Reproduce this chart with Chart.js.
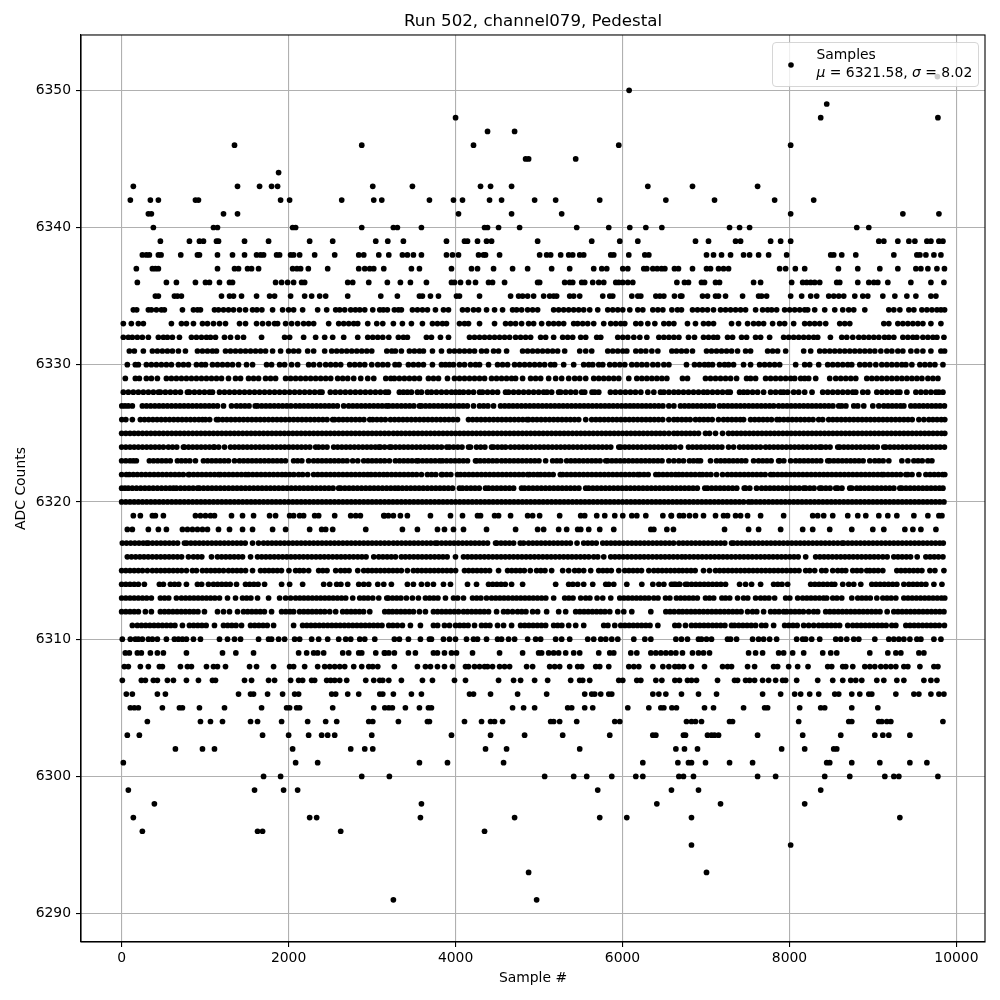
<!DOCTYPE html>
<html><head><meta charset="utf-8">
<style>html,body{margin:0;padding:0;background:#fff}canvas{display:block}</style>
<script src="https://cdn.jsdelivr.net/npm/chart.js@4"></script></head><body>
<canvas id="c" width="1000" height="1000" style="width:1000px;height:1000px"></canvas>
<script>
const xTicks=[0,2000,4000,6000,8000,10000];
const yTicks=[6290,6300,6310,6320,6330,6340,6350];
const s6351=[9772];
const s6350=[6079];
const s6349=[8446];
const s6348=[4000,8374,9778];
const s6347=[4383,4707];
const s6346=[1352,2876,4215,5955,8014];
const s6345=[4839,4875,5439];
const s6344=[1880];
const s6343=[140,1388,1652,1796,1868,3008,3483,4299,4419,4671,6303,6838,7618];
const s6342=[104,344,440,884,920,1904,2012,2636,3020,3116,3687,3975,4083,4407,4551,4947,5199,5727,6519,7102,7822,8290];
const s6341=[320,356,1220,1388,4035,4671,5271,8014,9358,9790];
const s6340=[380,1100,1148,2048,2084,2876,3255,3303,3591,4347,4383,4515,4767,5451,5835,6087,6279,6471,7282,7402,7522,8806,8950];
const s6339=[464,812,932,980,1136,1160,1472,1760,2252,2528,3044,3188,3375,3891,4107,4143,4263,4371,4431,4983,5631,5967,6183,6874,7030,7354,7414,7774,7894,8014,9070,9130,9298,9430,9502,9646,9694,9790,9838];
const s6338=[248,296,332,440,472,708,908,932,1148,1328,1472,1616,1664,1700,1856,1892,2024,2060,2132,2312,2552,2840,2900,3080,3200,3363,3423,3495,3591,3891,3963,4035,4275,4335,4359,4527,5007,5091,5139,5259,5355,5403,5487,5535,5859,5895,6075,6267,6315,7006,7090,7186,7294,7450,7522,7630,7750,7966,8494,8530,8626,8794,9250,9526,9562,9634,9730,9814];
const s6337=[176,368,404,440,1148,1352,1400,1508,1556,1640,2048,2100,2144,2236,2468,2840,2912,2972,3020,3140,3471,3567,3951,4191,4263,4455,4683,4863,5151,5367,5655,5751,5811,6003,6063,6255,6291,6363,6415,6467,6507,6622,6670,6838,7006,7054,7150,7210,7270,7882,7954,8070,8182,8586,8818,9082,9298,9514,9574,9658,9766,9856];
const s6336=[188,536,656,884,1004,1052,1172,1292,1328,1844,1916,1988,2060,2156,2192,2708,2768,2960,3183,3339,3459,3651,3951,3987,4059,4155,4239,4395,4443,4587,4983,5007,5307,5367,5403,5511,5547,5643,5715,5775,5919,5955,6003,6063,6123,6651,6742,6790,6946,6982,7114,7162,7570,7654,8026,8158,8206,8254,8302,8362,8566,8602,8818,8950,9010,9058,9178,9454,9694,9850];
const s6335=[404,440,632,668,716,1196,1292,1340,1436,1616,1772,1832,2024,2192,2276,2372,2444,2708,3104,3303,3567,3603,3699,3795,4011,4047,4287,4659,4755,4803,4863,4935,5055,5127,5175,5211,5367,5415,5487,5763,5847,5883,6111,6183,6219,6399,6447,6495,6622,6694,6711,6958,7018,7114,7150,7234,7438,7630,7666,7726,8014,8146,8254,8326,8470,8530,8590,8650,8782,8878,8938,9118,9262,9406,9514,9694,9754];
const s6334=[140,180,320,356,416,476,512,728,860,908,944,1112,1160,1220,1280,1340,1412,1484,1568,1620,1680,1808,1928,2000,2060,2168,2348,2456,2564,2612,2672,2744,2800,2852,2912,3008,3092,3135,3183,3267,3315,3351,3483,3543,3603,3663,3759,3855,3915,4083,4143,4215,4275,4371,4467,4563,4683,4731,4791,4863,4923,4983,5175,5235,5295,5355,5415,5475,5535,5607,5703,5823,5883,5943,6003,6087,6183,6243,6363,6423,6483,6591,6658,6706,6838,6898,6958,7018,7090,7174,7234,7294,7354,7414,7474,7594,7678,7738,7786,7846,7942,8002,8062,8122,8182,8218,8302,8422,8542,8638,8710,8770,8902,9190,9250,9322,9430,9490,9586,9646,9706,9766,9814,9858];
const s6333=[20,116,200,260,596,716,776,860,968,1028,1100,1172,1244,1412,1484,1616,1688,1760,1832,1868,1964,2036,2108,2180,2240,2300,2480,2600,2660,2720,2780,2828,2948,3056,3128,3255,3363,3471,3603,3723,3783,3843,3891,4047,4107,4155,4287,4467,4599,4659,4719,4791,4875,4935,5031,5115,5175,5235,5295,5415,5463,5523,5583,5655,5775,5859,5919,5979,6027,6159,6219,6303,6387,6495,6555,6615,6778,6874,6970,7030,7090,7306,7390,7498,7570,7630,7690,7798,7882,7942,8050,8182,8242,8302,8362,8434,8602,8662,8722,9130,9190,9298,9358,9418,9478,9538,9598,9694,9814];
const s6332=[20,80,128,188,248,320,440,500,548,608,692,836,896,956,1016,1064,1124,1232,1304,1388,1460,1676,1952,2012,2180,2324,2432,2528,2660,2828,2948,3008,3068,3128,3200,3315,3375,3423,3651,3711,3819,3915,4167,4227,4287,4347,4407,4467,4527,4587,4647,4719,4779,4839,4899,5019,5079,5175,5283,5343,5403,5499,5559,5691,5739,5943,6003,6063,6135,6207,6291,6435,6495,6555,6615,6675,6790,6862,6970,7030,7090,7138,7258,7318,7426,7486,7594,7654,7762,7930,7990,8050,8110,8170,8230,8290,8338,8490,8626,8686,8758,8830,8890,8950,9010,9070,9138,9190,9250,9358,9418,9478,9526,9598,9658,9718,9766,9850];
const s6331=[92,152,260,368,428,488,548,608,680,764,908,968,1028,1088,1136,1244,1304,1364,1424,1484,1544,1604,1664,1724,1808,1904,2000,2060,2120,2228,2300,2432,2516,2576,2636,2696,2756,2816,2876,2936,2996,3176,3236,3279,3351,3447,3507,3567,3615,3723,3831,3927,3987,4047,4107,4167,4227,4311,4371,4455,4515,4611,4803,4863,4923,4983,5043,5103,5163,5223,5307,5487,5559,5631,5823,5883,5943,6003,6051,6159,6219,6279,6351,6423,6591,6646,6706,6766,6838,7006,7066,7126,7186,7246,7306,7378,7474,7534,7738,7798,7858,7954,8170,8254,8362,8422,8482,8542,8602,8662,8722,8782,8842,8902,8962,9022,9094,9166,9226,9298,9358,9454,9526,9598,9694,9814,9858];
const s6330=[68,164,200,296,356,416,476,536,596,680,740,800,896,956,1004,1088,1148,1208,1268,1328,1400,1496,1568,1736,1796,1892,1952,2036,2108,2240,2300,2372,2444,2504,2564,2624,2732,2792,2852,2912,2996,3068,3128,3188,3275,3323,3435,3495,3555,3615,3723,3831,3879,3927,3975,4047,4107,4179,4239,4287,4395,4503,4563,4623,4707,4767,4827,4887,4947,5007,5067,5139,5187,5295,5415,5535,5595,5643,5715,5763,5847,5907,5967,6027,6111,6171,6231,6291,6363,6423,6495,6555,6766,6862,6922,6982,7030,7078,7162,7222,7270,7330,7450,7534,7642,7702,7762,7822,7882,8074,8182,8242,8350,8458,8518,8578,8638,8698,8746,8842,8902,8962,9034,9106,9166,9226,9286,9346,9394,9466,9562,9622,9682,9742,9838];
const s6329=[44,164,212,296,356,428,536,596,656,716,776,836,896,956,1016,1076,1136,1196,1280,1364,1424,1520,1580,1640,1724,1784,1844,1964,2024,2084,2144,2204,2264,2324,2384,2444,2504,2588,2648,2708,2780,2864,2948,3020,3164,3224,3267,3327,3387,3447,3507,3567,3675,3735,3795,3903,3987,4047,4107,4167,4227,4287,4347,4431,4491,4551,4611,4671,4719,4803,4899,4959,5019,5115,5199,5271,5355,5427,5487,5559,5655,5715,5775,5835,5895,5955,6075,6171,6231,6291,6351,6411,6471,6531,6718,6778,6994,7054,7114,7174,7234,7294,7366,7486,7534,7594,7714,7774,7834,7894,7954,8014,8062,8134,8182,8230,8314,8482,8554,8614,8674,8734,8794,8926,8986,9046,9106,9166,9226,9286,9346,9406,9466,9526,9586,9658,9718,9778];
const s6328=[20,80,140,200,260,320,380,440,464,524,584,644,704,788,812,872,932,992,1052,1088,1172,1232,1292,1352,1412,1472,1532,1592,1652,1712,1772,1832,1892,1952,2012,2072,2132,2192,2252,2312,2372,2400,2500,2560,2620,2680,2740,2800,2860,2920,2980,3040,3100,3160,3195,3327,3375,3423,3471,3543,3591,3663,3711,3771,3831,3891,3951,4000,4047,4095,4155,4215,4287,4323,4383,4443,4503,4599,4635,4695,4755,4815,4875,4935,4995,5055,5095,5151,5235,5259,5319,5379,5439,5511,5547,5635,5667,5715,5855,5915,5975,6035,6095,6155,6219,6303,6375,6455,6495,6555,6615,6670,6730,6790,6850,6910,6970,7018,7078,7138,7198,7258,7290,7402,7450,7498,7558,7618,7690,7774,7834,7894,7930,7978,8050,8110,8182,8270,8398,8458,8518,8578,8638,8698,8758,8794,8878,8938,9046,9106,9166,9226,9286,9322,9406,9514,9574,9634,9694,9754,9790,9838];
const s6327=[2,40,80,128,248,298,348,398,448,498,548,598,648,698,748,798,848,898,948,998,1048,1098,1148,1220,1316,1376,1426,1476,1526,1600,1628,1678,1728,1778,1828,1878,1928,1978,2028,2084,2134,2184,2234,2284,2334,2384,2434,2484,2534,2584,2660,2720,2770,2820,2870,2920,2970,3020,3070,3120,3170,3200,3250,3300,3350,3400,3450,3500,3567,3591,3641,3691,3741,3791,3841,3891,3941,3991,4041,4091,4141,4215,4287,4337,4387,4455,4539,4589,4639,4689,4739,4789,4839,4889,4939,4989,5039,5089,5139,5189,5239,5289,5339,5389,5439,5489,5539,5589,5639,5689,5739,5789,5839,5889,5939,5989,6039,6089,6135,6183,6233,6283,6333,6383,6433,6483,6555,6615,6694,6744,6794,6844,6894,6944,6994,7044,7090,7162,7212,7262,7312,7362,7412,7462,7512,7562,7612,7662,7712,7762,7810,7870,7920,7970,8020,8070,8120,8170,8220,8270,8320,8370,8420,8470,8520,8590,8626,8676,8770,8818,8890,8998,9070,9130,9180,9230,9280,9330,9370,9454,9504,9554,9604,9654,9704,9754,9804,9856];
const s6326=[2,50,128,224,274,324,374,424,474,524,574,624,674,724,774,824,874,924,968,1004,1054,1136,1160,1210,1260,1310,1360,1410,1460,1510,1560,1610,1660,1710,1760,1810,1860,1910,1960,2010,2060,2110,2160,2210,2260,2310,2360,2410,2460,2528,2552,2602,2652,2702,2752,2802,2852,2902,2972,3008,3058,3108,3158,3220,3270,3320,3370,3420,3470,3520,3570,3620,3670,3720,3770,3820,3870,3920,3970,4023,4155,4205,4255,4305,4355,4405,4455,4505,4555,4605,4655,4705,4755,4805,4855,4875,4925,4975,5025,5075,5125,5175,5225,5275,5325,5375,5425,5475,5559,5631,5681,5731,5781,5831,5881,5931,5981,6031,6081,6131,6181,6231,6281,6331,6381,6431,6481,6555,6615,6660,6710,6760,6810,6874,6924,6974,7024,7074,7150,7210,7260,7310,7360,7410,7450,7534,7584,7634,7684,7734,7784,7850,7882,7932,7982,8032,8082,8132,8182,8232,8282,8350,8398,8470,8520,8570,8620,8670,8720,8770,8820,8870,8920,8970,9020,9070,9120,9170,9220,9270,9320,9370,9420,9470,9550,9610,9670,9718,9768,9818,9860];
const s6325=[0,50,100,150,200,250,300,350,400,450,500,550,600,650,700,750,800,850,900,950,1000,1050,1100,1150,1200,1250,1300,1350,1400,1450,1500,1550,1600,1650,1700,1750,1800,1850,1900,1950,2000,2050,2100,2150,2200,2250,2300,2350,2400,2450,2500,2550,2600,2650,2700,2750,2800,2850,2900,2950,3000,3050,3100,3150,3200,3255,3303,3350,3400,3450,3500,3550,3600,3650,3700,3750,3800,3850,3900,3950,4000,4050,4100,4150,4200,4250,4300,4350,4400,4450,4500,4550,4600,4650,4700,4750,4800,4850,4900,4950,5000,5050,5100,5150,5200,5250,5300,5350,5400,5450,5500,5550,5600,5650,5700,5750,5800,5850,5900,5950,6000,6050,6100,6150,6200,6250,6300,6350,6400,6450,6500,6555,6615,6660,6710,6760,6810,6860,6910,6994,7042,7114,7198,7270,7320,7370,7420,7470,7520,7570,7620,7670,7720,7770,7820,7870,7920,7970,8020,8070,8120,8170,8220,8270,8320,8370,8420,8470,8520,8570,8620,8670,8720,8770,8820,8870,8920,8970,9020,9070,9120,9170,9220,9270,9320,9370,9420,9470,9520,9570,9620,9670,9720,9770,9820,9860];
const s6324=[0,50,100,150,200,250,300,350,400,450,500,560,610,660,740,752,802,852,902,952,1002,1052,1100,1112,1162,1232,1304,1354,1404,1454,1504,1554,1604,1654,1704,1754,1804,1854,1904,1954,2004,2054,2104,2154,2204,2254,2324,2360,2410,2460,2540,2588,2638,2688,2738,2788,2838,2888,2938,2988,3038,3080,3100,3150,3207,3231,3281,3331,3381,3431,3481,3531,3581,3631,3681,3731,3781,3831,3895,3927,3977,4027,4077,4155,4179,4251,4301,4351,4431,4455,4505,4555,4599,4659,4709,4759,4809,4859,4909,4959,5009,5059,5109,5159,5209,5259,5309,5359,5409,5459,5509,5559,5609,5659,5709,5759,5809,5859,5955,5979,6029,6079,6129,6179,6229,6279,6329,6379,6429,6479,6529,6579,6629,6695,6790,6840,6890,6940,6990,7040,7090,7140,7190,7270,7330,7402,7452,7502,7552,7602,7652,7714,7762,7812,7862,7912,7962,8012,8062,8112,8162,8212,8262,8312,8362,8386,8436,8486,8578,8602,8652,8702,8752,8802,8852,8902,8952,9002,9052,9130,9154,9204,9254,9304,9354,9404,9454,9504,9554,9604,9654,9704,9754,9804,9856];
const s6323=[0,50,100,140,176,332,382,432,482,532,582,668,716,766,816,884,980,1030,1080,1130,1180,1230,1280,1352,1412,1462,1512,1562,1612,1662,1712,1762,1812,1862,1912,1962,2060,2108,2158,2240,2300,2350,2400,2450,2500,2550,2600,2650,2700,2768,2828,2900,2950,3000,3050,3100,3150,3207,3279,3329,3379,3429,3479,3531,3555,3605,3655,3705,3755,3807,3843,3893,3943,3993,4043,4093,4143,4239,4251,4295,4345,4395,4445,4495,4551,4599,4649,4699,4749,4799,4849,4899,4949,4999,5079,5163,5213,5259,5331,5381,5431,5481,5531,5581,5631,5681,5731,5799,5823,5873,5923,5973,6023,6073,6123,6173,6223,6273,6323,6373,6423,6473,6555,6615,6675,6730,6802,6850,6898,6934,7054,7126,7176,7226,7276,7326,7376,7426,7476,7570,7630,7680,7730,7780,7870,7882,7932,8014,8074,8124,8174,8224,8274,8324,8374,8458,8482,8532,8582,8632,8682,8732,8782,8832,8882,8962,9022,9072,9122,9190,9346,9418,9490,9540,9590,9658,9706];
const s6322=[0,56,92,140,188,238,288,338,388,438,488,538,588,638,688,738,800,812,862,912,962,1012,1062,1112,1160,1184,1234,1284,1334,1384,1434,1484,1520,1570,1620,1670,1720,1770,1820,1870,1920,1964,2012,2062,2120,2168,2228,2300,2350,2400,2450,2500,2550,2600,2650,2700,2750,2800,2850,2900,2948,2988,3038,3088,3138,3183,3233,3283,3333,3383,3433,3483,3533,3591,3663,3713,3763,3831,3843,3893,3943,4023,4059,4109,4159,4209,4259,4309,4359,4409,4459,4509,4559,4609,4659,4709,4759,4809,4863,4887,4935,4983,5019,5069,5119,5169,5255,5283,5333,5383,5433,5483,5533,5583,5633,5683,5733,5783,5833,5883,5933,5983,6033,6083,6133,6183,6207,6257,6307,6399,6435,6485,6535,6585,6635,6675,6720,6770,6820,6870,6922,6958,7008,7058,7126,7198,7258,7308,7358,7408,7458,7508,7558,7608,7658,7708,7774,7810,7860,7910,7960,8010,8060,8110,8160,8210,8260,8310,8360,8410,8458,8508,8558,8608,8658,8708,8758,8808,8858,8908,8958,9008,9058,9106,9130,9180,9230,9280,9330,9394,9418,9468,9550,9634,9684,9734,9784,9834,9860];
const s6321=[0,40,80,128,178,228,278,328,378,428,478,528,578,620,656,706,756,806,856,908,932,982,1032,1082,1132,1182,1232,1282,1332,1382,1432,1482,1532,1582,1632,1682,1732,1782,1832,1882,1932,1982,2032,2082,2132,2182,2232,2282,2332,2382,2432,2482,2532,2600,2624,2674,2724,2774,2824,2874,2924,2974,3024,3074,3124,3174,3224,3274,3315,3363,3413,3463,3513,3563,3613,3663,3713,3763,3813,3863,3913,3963,4047,4083,4133,4183,4233,4283,4359,4395,4445,4495,4545,4595,4645,4695,4791,4827,4877,4927,4977,5027,5077,5127,5177,5227,5277,5327,5377,5427,5477,5559,5595,5645,5695,5745,5795,5845,5895,5945,5995,6045,6095,6145,6195,6245,6295,6345,6395,6445,6495,6545,6595,6645,6695,6745,6795,6845,6895,6986,7018,7068,7118,7168,7218,7268,7318,7368,7458,7474,7524,7606,7666,7716,7766,7816,7866,7916,7966,8016,8066,8116,8170,8194,8244,8294,8362,8386,8436,8486,8554,8578,8628,8722,8746,8806,8850,8900,8950,9000,9050,9100,9150,9200,9250,9322,9346,9396,9446,9496,9546,9596,9646,9696,9746,9796,9838];
const s6320=[0,50,100,150,200,250,300,350,400,450,500,550,600,650,700,750,800,850,900,950,1000,1050,1100,1150,1200,1250,1300,1350,1400,1450,1500,1550,1600,1650,1700,1750,1800,1850,1900,1950,2000,2050,2100,2150,2200,2250,2300,2350,2400,2450,2500,2550,2600,2650,2700,2750,2800,2850,2900,2950,3000,3050,3100,3150,3200,3250,3300,3350,3400,3450,3500,3550,3600,3650,3700,3750,3800,3850,3900,3950,4000,4050,4100,4150,4200,4250,4300,4350,4400,4450,4500,4550,4600,4650,4700,4750,4800,4850,4900,4950,5000,5050,5100,5150,5200,5250,5300,5350,5400,5450,5500,5550,5600,5650,5700,5750,5800,5850,5900,5950,6000,6050,6100,6150,6200,6250,6300,6350,6400,6450,6500,6550,6600,6650,6700,6750,6800,6850,6900,6950,7000,7050,7100,7150,7200,7250,7300,7350,7400,7450,7510,7550,7600,7650,7700,7750,7800,7850,7900,7950,8000,8050,8100,8150,8200,8250,8300,8350,8400,8450,8500,8550,8600,8650,8700,8750,8800,8850,8900,8950,9000,9050,9100,9150,9200,9250,9300,9350,9400,9450,9500,9550,9600,9650,9700,9750,9800,9850];
const s6319=[140,224,368,404,500,884,944,1004,1064,1112,1316,1448,1580,1772,1844,2012,2060,2132,2180,2312,2360,2552,2744,2804,2860,3140,3147,3195,3255,3339,3423,3699,3939,4083,4263,4299,4467,4515,4659,4863,4923,5007,5247,5499,5547,5691,5787,5907,6003,6111,6171,6279,6483,6583,6586,6682,6730,6802,6874,6970,7114,7210,7258,7354,7414,7498,7654,7930,8278,8338,8410,8518,8698,8818,8914,9070,9178,9286,9490,9658,9790,9826];
const s6318=[68,128,320,440,536,728,788,848,908,968,1028,1160,1292,1448,1568,1808,1964,2252,2396,2444,2528,2924,3363,3543,3783,3867,3975,4095,4371,4719,4983,5055,5235,5331,5463,5499,5595,5727,5895,6339,6375,6531,6610,7222,7510,7630,7894,8158,8278,8482,8746,8998,9130,9382,9478,9574,9754];
const s6317=[8,58,108,158,208,258,300,320,370,420,470,520,570,620,670,752,780,830,880,930,980,1030,1080,1130,1180,1230,1280,1330,1380,1430,1480,1568,1640,1700,1750,1800,1850,1900,1950,2000,2050,2100,2150,2200,2250,2300,2350,2400,2450,2500,2550,2600,2650,2700,2750,2800,2850,2900,2950,3000,3050,3100,3150,3200,3255,3303,3353,3403,3453,3503,3553,3603,3653,3703,3755,3783,3833,3883,3933,3983,4033,4083,4133,4183,4233,4283,4333,4383,4479,4495,4545,4595,4645,4695,4775,4815,4875,4925,4975,5025,5075,5125,5175,5225,5275,5325,5375,5455,5535,5585,5635,5685,5763,5811,5861,5911,5961,6011,6061,6111,6161,6211,6261,6311,6361,6411,6461,6511,6561,6611,6675,6725,6775,6825,6875,6925,6975,7025,7075,7125,7175,7225,7306,7330,7378,7428,7478,7528,7578,7628,7678,7728,7778,7828,7878,7928,7978,8028,8078,8128,8178,8228,8278,8328,8378,8428,8478,8528,8578,8630,8650,8700,8750,8800,8850,8900,8950,9000,9050,9100,9150,9200,9250,9300,9350,9400,9450,9500,9550,9600,9650,9700,9750,9800,9842];
const s6316=[68,118,168,218,268,318,368,418,468,518,568,618,668,718,800,860,910,960,1076,1148,1198,1248,1298,1348,1398,1448,1544,1628,1678,1728,1778,1828,1878,1928,1978,2028,2078,2128,2178,2228,2278,2328,2378,2428,2478,2528,2578,2628,2678,2728,2778,2828,2878,2928,3020,3080,3130,3180,3230,3280,3351,3399,3449,3499,3549,3599,3649,3699,3749,3799,3849,3899,3999,4095,4145,4195,4245,4295,4345,4395,4445,4495,4545,4595,4645,4695,4745,4795,4845,4895,4945,4995,5045,5095,5145,5195,5245,5295,5345,5395,5445,5495,5545,5595,5655,5703,5775,5859,5909,5959,6009,6059,6109,6159,6209,6259,6309,6359,6409,6459,6509,6559,6609,6659,6710,6754,6804,6854,6904,6954,7004,7054,7104,7154,7204,7254,7304,7354,7404,7454,7504,7554,7604,7654,7704,7754,7804,7854,7904,7954,8004,8054,8104,8194,8314,8364,8414,8464,8514,8564,8614,8664,8714,8764,8814,8864,8914,8964,9014,9064,9118,9170,9250,9300,9350,9400,9450,9530,9634,9684,9734,9784,9838];
const s6315=[0,50,100,150,200,250,308,368,418,468,518,568,618,668,718,776,848,896,968,1018,1068,1118,1168,1220,1280,1330,1380,1430,1484,1568,1664,1714,1764,1814,1864,1914,2004,2084,2132,2180,2240,2360,2410,2460,2564,2624,2674,2724,2828,2900,2950,3000,3050,3100,3150,3200,3250,3300,3350,3423,3495,3545,3595,3645,3695,3745,3795,3845,3895,3945,4000,4107,4157,4207,4257,4307,4357,4407,4515,4623,4673,4723,4773,4823,4895,4971,5021,5071,5151,5283,5355,5427,5477,5535,5619,5715,5765,5815,5865,5955,6027,6077,6127,6177,6227,6315,6375,6425,6475,6525,6575,6625,6675,6720,6770,6820,6870,6970,7042,7114,7164,7214,7264,7314,7364,7414,7464,7514,7564,7614,7664,7714,7764,7814,7864,7914,7964,8014,8064,8114,8194,8242,8302,8386,8436,8518,8578,8628,8674,8758,8808,8858,8926,8962,9012,9062,9118,9286,9336,9386,9436,9486,9536,9586,9682,9742,9850];
const s6314=[0,50,100,150,200,272,452,500,584,634,684,776,908,958,1040,1100,1150,1200,1250,1300,1376,1484,1534,1584,1634,1712,1916,2012,2168,2420,2492,2576,2626,2708,2840,2900,2960,3068,3140,3231,3423,3495,3591,3663,3735,3855,3939,4143,4251,4395,4445,4495,4545,4595,4671,4803,5199,5355,5405,5463,5535,5643,5799,5835,5895,6051,6231,6363,6435,6495,6615,6675,6586,6636,6686,6754,6778,6828,6878,6928,6978,7028,7078,7128,7178,7234,7402,7474,7546,7654,7810,7860,7910,7978,8254,8304,8354,8404,8454,8504,8542,8638,8710,8770,8854,8986,9036,9086,9136,9186,9236,9286,9370,9430,9480,9530,9580,9634,9730,9826];
const s6313=[0,50,100,150,200,250,300,356,464,514,564,656,716,766,816,866,916,966,1016,1066,1116,1172,1268,1364,1448,1498,1548,1628,1760,1892,1964,2024,2084,2134,2184,2234,2284,2334,2384,2434,2484,2534,2584,2634,2684,2768,2852,2902,2952,3008,3080,3176,3195,3245,3295,3345,3411,3483,3555,3639,3689,3739,3789,3879,3975,4025,4095,4203,4253,4303,4371,4431,4481,4531,4581,4631,4683,4731,4781,4831,4881,4931,4981,5031,5081,5175,5307,5357,5407,5499,5559,5609,5695,5763,5859,5967,6017,6067,6117,6167,6217,6267,6315,6375,6425,6515,6567,6646,6696,6746,6796,6846,6896,6994,7042,7092,7190,7234,7284,7378,7450,7500,7594,7654,7704,7754,7822,7954,8004,8098,8158,8208,8258,8308,8358,8408,8446,8518,8568,8626,8746,8818,8868,8918,8968,9046,9118,9168,9218,9274,9370,9420,9470,9520,9570,9620,9670,9720,9770,9820,9860];
const s6312=[0,50,100,150,200,284,356,464,514,564,614,664,714,764,814,864,914,992,1148,1220,1292,1388,1460,1510,1560,1610,1660,1710,1796,1916,1966,2016,2060,2132,2182,2232,2282,2332,2382,2432,2492,2564,2648,2698,2748,2798,2848,2898,2972,3152,3200,3245,3295,3345,3395,3445,3495,3567,3639,3735,3785,3835,3885,3935,3985,4035,4095,4143,4193,4243,4293,4343,4395,4491,4575,4625,4683,4743,4793,4843,4923,4983,5091,5235,5319,5439,5489,5539,5589,5639,5689,5739,5789,5847,5943,6015,6111,6339,6519,6569,6619,6675,6720,6770,6820,6870,6920,6970,7020,7070,7120,7170,7220,7270,7320,7370,7420,7498,7558,7608,7690,7774,7824,7874,7930,7966,8016,8066,8116,8166,8230,8290,8338,8434,8484,8534,8584,8634,8684,8734,8784,8834,8884,8934,8984,9034,9084,9170,9250,9300,9350,9400,9450,9500,9550,9600,9650,9700,9750,9800,9850];
const s6311=[128,188,238,288,338,388,438,488,538,588,638,728,812,862,912,962,1012,1112,1220,1270,1320,1370,1436,1544,1594,1644,1694,1744,1820,2060,2168,2218,2268,2318,2368,2418,2468,2518,2568,2618,2668,2718,2768,2818,2868,2918,2968,3018,3068,3118,3200,3250,3303,3363,3459,3579,3735,3785,3867,3927,4000,4050,4100,4150,4227,4311,4361,4411,4503,4575,4671,4779,4829,4879,4929,4979,5029,5079,5175,5223,5273,5355,5439,5535,5775,5825,5907,5979,6029,6079,6129,6179,6229,6279,6329,6423,6627,6675,6754,6826,6876,6926,6976,7026,7078,7126,7176,7226,7306,7342,7392,7442,7492,7542,7594,7666,7716,7810,7942,7992,8042,8092,8170,8230,8290,8350,8400,8450,8500,8550,8600,8698,8758,8808,8858,8908,8958,9008,9058,9108,9158,9226,9274,9394,9444,9494,9544,9594,9644,9694,9744,9794,9856];
const s6310=[8,104,164,200,248,320,368,428,536,632,680,728,776,860,944,1172,1268,1352,1424,1640,1760,1796,1880,1952,2072,2132,2276,2360,2468,2600,2684,2744,2852,2912,3032,3267,3327,3435,3579,3687,3711,3855,3927,3999,4131,4215,4263,4371,4503,4551,4635,4707,4863,4959,5019,5199,5271,5367,5583,5655,5739,5799,5871,5943,6135,6267,6339,6639,6706,6778,6910,6946,7006,7066,7258,7294,7366,7558,7630,7690,7762,7846,8086,8158,8194,8266,8362,8554,8614,8686,8770,8830,9022,9190,9250,9310,9370,9442,9526,9574,9730,9814];
const s6309=[44,92,188,236,344,428,500,776,1208,1368,1580,2120,2216,2300,2348,2420,2648,2720,2840,2876,3044,3152,3200,3147,3267,3435,3519,3735,3783,3867,3951,4011,4203,4527,4803,4995,5031,5115,5175,5235,5319,5415,5487,5715,5847,5895,6099,6171,6339,6399,6459,6519,6579,6639,6718,6838,6910,6970,7042,7510,7594,7678,7870,7930,8038,8170,8398,8494,8566,8962,9178,9274,9334,9550,9610];
const s6308=[32,80,224,320,452,488,704,788,836,1016,1100,1148,1244,1532,1616,1820,2012,2060,2192,2348,2432,2492,2552,2612,2672,2780,2876,2960,3008,3068,3267,3543,3639,3699,3783,3867,3963,4119,4155,4227,4287,4347,4383,4443,4527,4587,4647,4851,4923,5127,5187,5247,5367,5463,5511,5679,5727,5835,6075,6135,6195,6363,6483,6555,6627,6675,6730,6826,6982,7198,7258,7306,7498,7582,7810,7858,7990,8098,8222,8458,8506,8638,8674,8758,8902,8962,9022,9094,9154,9214,9274,9370,9418,9562,9730,9778];
const s6307=[8,236,284,380,428,548,620,776,920,1088,1124,1472,1556,1760,1832,2024,2120,2168,2276,2312,2456,2504,2552,2612,2696,2924,3020,3092,3128,3200,3351,3603,3723,3987,4119,4515,4695,4779,4947,5103,5379,5487,5523,5607,5955,6003,6171,6219,6399,6471,6627,6682,6778,6826,6886,7138,7342,7378,7474,7522,7582,7678,7750,7834,7918,7954,8086,8338,8518,8638,8734,8794,8866,9046,9130,9286,9370,9610,9694,9766];
const s6306=[56,128,428,524,1400,1544,1580,1748,1928,2072,2120,2516,2564,2708,2840,3092,3128,3255,3471,3591,4167,4215,4419,4743,5091,5547,5631,5667,5739,5835,5871,6363,6435,6519,6706,6910,7126,7678,7894,8062,8134,8242,8350,8542,8590,8746,8842,8950,8986,9274,9490,9550,9694,9790,9850];
const s6305=[104,152,200,488,692,728,932,1232,1676,1976,2012,2096,2132,2528,3020,3152,3200,3243,3399,3567,3675,3711,4683,4815,4947,5343,5391,5547,5643,6063,6315,6459,6495,6591,6646,6982,7090,7450,7702,7738,8122,8374,8422,8746,9058];
const s6304=[308,944,1064,1208,1544,1628,1916,2228,2444,2576,2960,3008,3315,3663,3687,4107,4311,4419,4467,4563,5139,5175,5247,5451,5907,5967,6766,6826,6874,6946,7282,7318,8110,8710,8746,9070,9106,9166,9214,9838];
const s6303=[68,212,1688,2000,2240,2396,2468,2552,2996,3951,4419,4827,5283,5847,6363,6399,6730,6754,7018,7066,7102,7150,7618,8158,8614,9022,9118,9190,9442];
const s6302=[644,968,1112,2048,2744,2912,3008,4359,4611,5487,6639,6742,6898,7906,8182,8530,8566];
const s6301=[20,2084,2348,3567,3903,4575,6243,6663,6790,6826,6994,7282,7558,8446,8482,8746,9082,9442,9646];
const s6300=[1700,1904,2876,3207,5067,5415,5571,5871,6159,6243,6675,6730,6850,7618,7834,8422,8722,9142,9250,9310,9778];
const s6299=[80,1592,1940,2108,5703,6586,6910,8374];
const s6298=[392,3591,6411,7174,8182];
const s6297=[140,2252,2336,3579,4707,5727,6051,6826,9322];
const s6296=[248,1628,1688,2624,4347];
const s6295=[6826,8014];
const s6293=[4875,7006];
const s6291=[3255,4971];
const rows={6351:s6351,6350:s6350,6349:s6349,6348:s6348,6347:s6347,6346:s6346,6345:s6345,6344:s6344,6343:s6343,6342:s6342,6341:s6341,6340:s6340,6339:s6339,6338:s6338,6337:s6337,6336:s6336,6335:s6335,6334:s6334,6333:s6333,6332:s6332,6331:s6331,6330:s6330,6329:s6329,6328:s6328,6327:s6327,6326:s6326,6325:s6325,6324:s6324,6323:s6323,6322:s6322,6321:s6321,6320:s6320,6319:s6319,6318:s6318,6317:s6317,6316:s6316,6315:s6315,6314:s6314,6313:s6313,6312:s6312,6311:s6311,6310:s6310,6309:s6309,6308:s6308,6307:s6307,6306:s6306,6305:s6305,6304:s6304,6303:s6303,6302:s6302,6301:s6301,6300:s6300,6299:s6299,6298:s6298,6297:s6297,6296:s6296,6295:s6295,6293:s6293,6291:s6291};
const points=[];
for(const k of Object.keys(rows)){for(const x of rows[k]){points.push({x:x,y:Number(k)});}}
const FONT='"DejaVu Sans"';
const legendBox={
  id:'legendBox',
  afterDatasetsDraw(chart){
    const a=chart.chartArea,g=chart.ctx;
    g.save();
    g.strokeStyle='#000';g.lineWidth=1.1;
    g.strokeRect(a.left,a.top,a.right-a.left,a.bottom-a.top);
    g.beginPath();g.roundRect(772.5,42.5,206,44,3.5);
    g.fillStyle='rgba(255,255,255,0.8)';g.fill();
    g.strokeStyle='rgba(204,204,204,0.8)';g.lineWidth=1;g.stroke();
    g.fillStyle='#000';
    g.beginPath();g.arc(791,65,2.8,0,Math.PI*2);g.fill();
    g.textBaseline='alphabetic';g.textAlign='left';
    g.font='13.9px '+FONT;g.fillText('Samples',816.5,59);
    let x=816.5;const y=76.5;
    const parts=[['\u03bc',true],[' = 6321.58, ',false],['\u03c3',true],[' = 8.02',false]];
    for(const [t,it] of parts){g.font=(it?'italic ':'')+'13.9px '+FONT;g.fillText(t,x,y);x+=g.measureText(t).width;}
    g.restore();
  }
};
new Chart(document.getElementById('c'),{
  type:'scatter',
  data:{datasets:[{label:'Samples',data:points,showLine:false,pointRadius:2.85,pointHoverRadius:2.85,pointBorderWidth:0,backgroundColor:'#000',borderColor:'#000'}]},
  plugins:[legendBox],
  options:{
    responsive:false,animation:false,devicePixelRatio:1,
    layout:{padding:{left:0,right:15,top:0,bottom:0}},
    plugins:{legend:{display:false},tooltip:{enabled:false},
      title:{display:true,text:'Run 502, channel079, Pedestal',fullSize:false,color:'#000',font:{family:FONT,size:16.65,weight:'normal'},padding:{top:12,bottom:3}}},
    scales:{
      x:{type:'linear',min:-487,max:10342,
        afterBuildTicks(s){s.ticks=xTicks.map(v=>({value:v}));},
        afterFit(s){s.height=58;},
        grid:{color:'#b0b0b0',lineWidth:1.1,tickColor:'#000',tickLength:5,tickWidth:1.1},
        border:{color:'#000',width:1.1},
        ticks:{color:'#000',font:{family:FONT,size:13.9},padding:3,maxRotation:0,autoSkip:false,callback:v=>String(v)},
        title:{display:true,text:'Sample #',color:'#000',font:{family:FONT,size:13.9},padding:{top:4,bottom:13}}},
      y:{type:'linear',min:6287.93,max:6354.03,
        afterBuildTicks(s){s.ticks=yTicks.map(v=>({value:v}));},
        afterFit(s){s.width=81;},
        grid:{color:'#b0b0b0',lineWidth:1.1,tickColor:'#000',tickLength:5,tickWidth:1.1},
        border:{color:'#000',width:1.1},
        ticks:{color:'#000',font:{family:FONT,size:13.9},padding:5,autoSkip:false,callback:v=>String(v)},
        title:{display:true,text:'ADC Counts',color:'#000',font:{family:FONT,size:13.9},padding:{top:13,bottom:4}}}
    }
  }
});
</script></body></html>
